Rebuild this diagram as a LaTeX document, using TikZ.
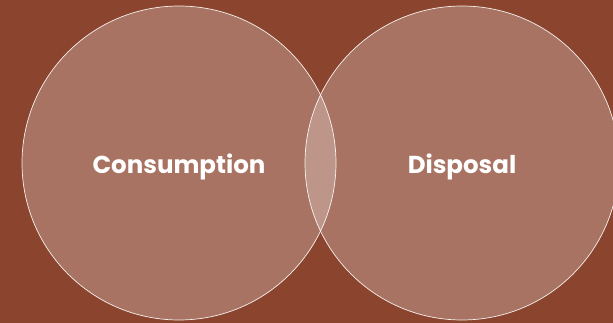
\documentclass[tikz,border=0pt]{standalone}
\usepackage{fontspec}
\setmainfont{Poppins}
\usepackage{xcolor}
\definecolor{bgbrown}{HTML}{8B452E}

\begin{document}
\begin{tikzpicture}[
  x=1pt, y=1pt,
  font=\fontsize{24.5}{28}\selectfont\bfseries,
  setcirc/.style={circle, draw=white, line width=0.7pt, fill=white, fill opacity=0.25, draw opacity=0.9, text opacity=1, minimum size=314pt, inner sep=0pt},
  lbl/.style={text=white, inner sep=0pt, anchor=base}
]
\fill[bgbrown] (0,0) rectangle (613,-323);
\useasboundingbox (0,0) rectangle (613,-323);

\node[setcirc] (cons) at (179,-163) {};
\node[setcirc] (disp) at (462,-163) {};
\node[lbl] (conslbl) at ([yshift=-10.5pt]cons.center) {Consumption};
\node[lbl] (displbl) at ([yshift=-10.5pt]disp.center) {Disposal};
\end{tikzpicture}
\end{document}
